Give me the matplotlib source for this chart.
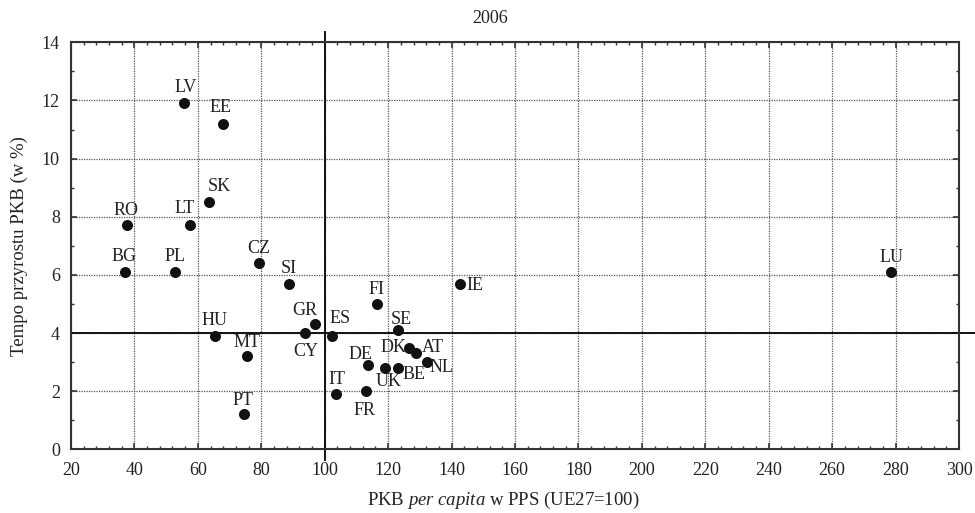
import matplotlib
matplotlib.use('Agg')
import matplotlib.pyplot as plt
from matplotlib.ticker import MultipleLocator

plt.rcParams['font.family'] = ['Liberation Serif', 'DejaVu Serif']
plt.rcParams['mathtext.fontset'] = 'custom'
plt.rcParams['mathtext.rm'] = 'Liberation Serif'
plt.rcParams['mathtext.it'] = 'Liberation Serif:italic'

# data (2006)
countries = ['LV', 'EE', 'SK', 'RO', 'LT', 'CZ', 'BG', 'PL', 'SI', 'FI',
             'IE', 'GR', 'CY', 'ES', 'HU', 'SE', 'DK', 'AT', 'NL', 'MT',
             'DE', 'UK', 'BE', 'IT', 'FR', 'PT', 'LU']
gdp_pc = [55.5, 67.8, 63.5, 37.6, 57.6, 79.2, 37.0, 52.8, 88.9, 116.4,
          142.8, 96.9, 93.9, 102.4, 65.4, 123.2, 126.7, 128.7, 132.1, 75.5,
          113.7, 119.1, 123.2, 103.7, 113.0, 74.5, 278.6]
growth = [11.9, 11.2, 8.5, 7.7, 7.7, 6.4, 6.1, 6.1, 5.7, 5.0,
          5.7, 4.3, 4.0, 3.9, 3.9, 4.1, 3.5, 3.3, 3.0, 3.2,
          2.9, 2.8, 2.8, 1.9, 2.0, 1.2, 6.1]

# where each country label sits relative to its dot (pixels)
label_offsets = {
    'LV': (2, 16), 'EE': (-2, 16), 'SK': (10, 16), 'RO': (-1, 15),
    'LT': (-6, 17), 'CZ': (0, 15), 'BG': (-1, 15), 'PL': (0, 15),
    'SI': (-1, 15), 'FI': (0, 14), 'IE': (14, -2), 'GR': (-10, 14),
    'CY': (0, -18), 'ES': (8, 17), 'HU': (0, 15), 'SE': (3, 11),
    'DK': (-16, 0), 'AT': (17, 6), 'NL': (15, -5), 'MT': (0, 14),
    'DE': (-8, 10), 'UK': (3, -14), 'BE': (16, -7), 'IT': (0, 15),
    'FR': (-1, -19), 'PT': (-1, 14), 'LU': (0, 14),
}

x_ticks = list(range(20, 301, 20))
y_ticks = list(range(0, 15, 2))

# -----------------------------------------------

fig = plt.figure(figsize=(9.75, 5.13), dpi=100)
ax = fig.add_axes([0.0728, 0.1242, 0.9108, 0.7933])

ax.set_xlim(20, 300)
ax.set_ylim(0, 14)

ax.grid(True, which='major', linestyle=(0, (1, 1)), color='#555555',
        linewidth=0.9)
ax.set_axisbelow(True)

# reference lines: EU average and median growth
ax.plot([100, 100], [-0.37, 14.35], color='#111111', linewidth=1.4,
        clip_on=False, zorder=2)
ax.plot([20, 305.5], [4, 4], color='#111111', linewidth=1.4,
        clip_on=False, zorder=2)

ax.scatter(gdp_pc, growth, s=48, color='#111111', zorder=3)

for name, x, y in zip(countries, gdp_pc, growth):
    dx, dy = label_offsets[name]
    ax.annotate(name, (x, y), xytext=(dx, dy), textcoords='offset pixels',
                ha='center', va='center', fontsize=13, color='#222222')

ax.set_xticks(x_ticks)
ax.set_yticks(y_ticks)
ax.xaxis.set_minor_locator(MultipleLocator(4))
ax.yaxis.set_minor_locator(MultipleLocator(1))
ax.tick_params(which='both', direction='in', top=True, right=True,
               colors='#333333', labelcolor='#222222', labelsize=13)
ax.tick_params(which='major', length=4, width=1.2)
ax.tick_params(which='minor', length=2.5, width=1.0)
ax.tick_params(axis='x', pad=9)
ax.tick_params(axis='y', pad=8)

for spine in ax.spines.values():
    spine.set_color('#333333')
    spine.set_linewidth(1.5)

ax.set_title('2006', fontsize=13, pad=14, color='#222222', x=0.472)
ax.set_ylabel('Tempo przyrostu PKB (w %)', fontsize=13.5, color='#222222',
              labelpad=10)
ax.set_xlabel('PKB $\\mathit{per\\ capita}$ w PPS (UE27=100)', fontsize=13.5,
              color='#222222')
ax.xaxis.set_label_coords(0.4865, -0.1)

fig.savefig('out.png', dpi=100)
